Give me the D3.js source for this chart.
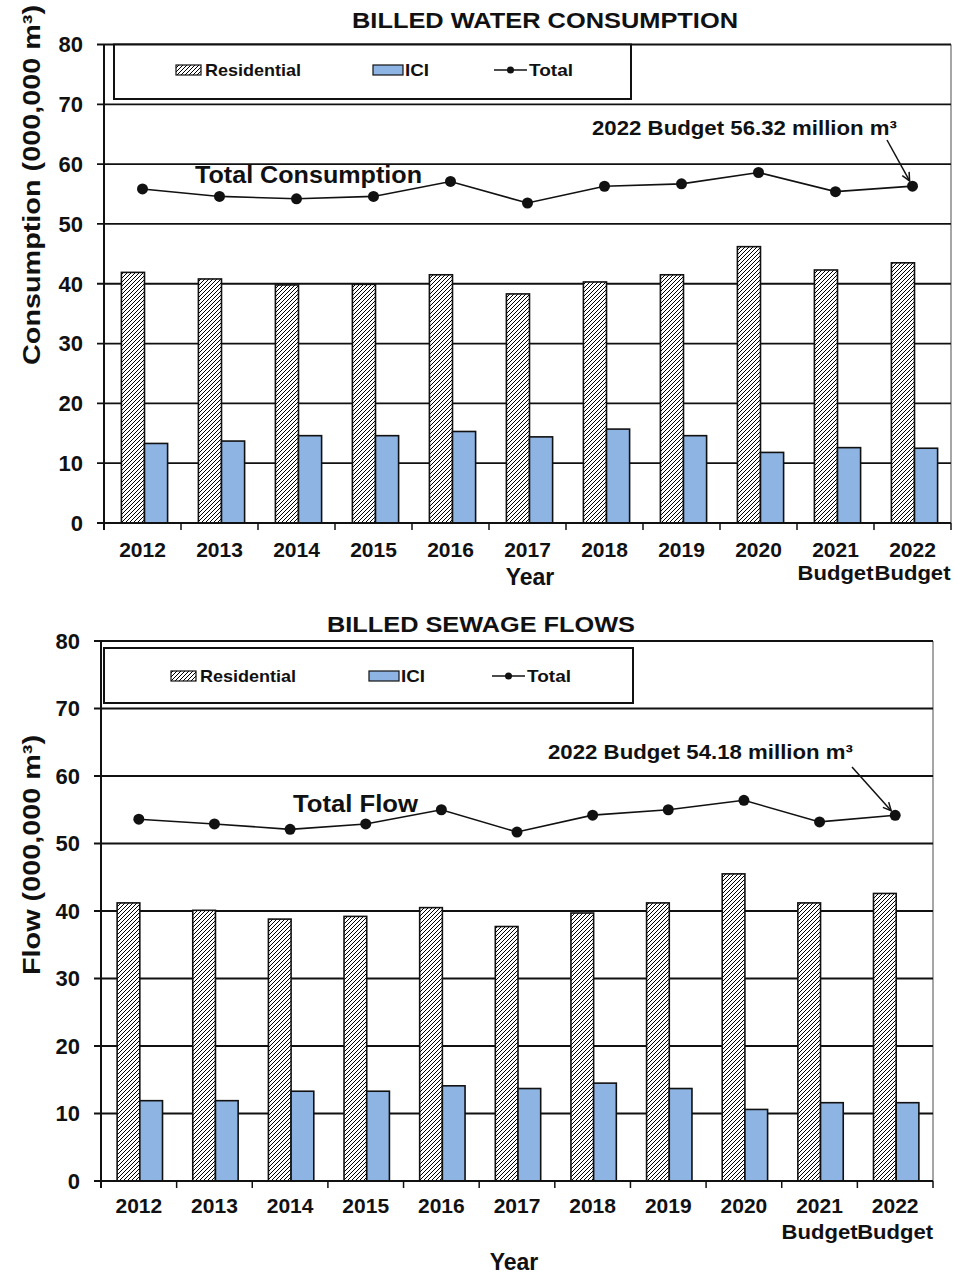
<!DOCTYPE html>
<html>
<head>
<meta charset="utf-8">
<script src="https://cdn.jsdelivr.net/npm/d3@7"></script>
<style>
  html, body { margin: 0; padding: 0; background: #ffffff; }
  svg { display: block; }
  text { font-family: "Liberation Sans", Arial, sans-serif; fill: #111; }
</style>
</head>
<body>
<script>
// ---------------- DATA ----------------
const years = ["2012", "2013", "2014", "2015", "2016", "2017", "2018", "2019", "2020", "2021", "2022"];
const yearSubLabels = ["", "", "", "", "", "", "", "", "", "Budget", "Budget"];
const yTicks = [0, 10, 20, 30, 40, 50, 60, 70, 80];
const legendLabels = ["Residential", "ICI", "Total"];

const waterResidential = [41.9, 40.8, 39.8, 39.9, 41.5, 38.3, 40.3, 41.5, 46.2, 42.3, 43.5];
const waterICI         = [13.3, 13.7, 14.6, 14.6, 15.3, 14.4, 15.7, 14.6, 11.8, 12.6, 12.5];
const waterTotal       = [55.85, 54.6, 54.2, 54.6, 57.1, 53.5, 56.3, 56.7, 58.6, 55.4, 56.32];

const sewageResidential = [41.2, 40.1, 38.8, 39.2, 40.5, 37.7, 39.7, 41.2, 45.5, 41.2, 42.6];
const sewageICI         = [11.9, 11.9, 13.3, 13.3, 14.1, 13.7, 14.5, 13.7, 10.6, 11.6, 11.6];
const sewageTotal       = [53.6, 52.9, 52.1, 52.9, 55.0, 51.7, 54.2, 55.0, 56.4, 53.2, 54.18];

const waterTitle = "BILLED WATER CONSUMPTION";
const sewageTitle = "BILLED SEWAGE FLOWS";
const waterYTitle = "Consumption (000,000 m³)";
const sewageYTitle = "Flow (000,000 m³)";
const waterLineLabel = "Total Consumption";
const sewageLineLabel = "Total Flow";
const waterAnnotation = "2022 Budget 56.32 million m³";
const sewageAnnotation = "2022 Budget 54.18 million m³";
const xTitle = "Year";

// ---------------- DRAW ----------------
const W = 954, H = 1274;
const svg = d3.select("body").append("svg").attr("width", W).attr("height", H);

const defs = svg.append("defs");
const pat = defs.append("pattern")
  .attr("id", "hatch").attr("patternUnits", "userSpaceOnUse")
  .attr("width", 4).attr("height", 4);
pat.append("rect").attr("width", 4).attr("height", 4).attr("fill", "#fff");
pat.append("path").attr("d", "M-1,1 l2,-2 M0,4 l4,-4 M3,5 l2,-2")
  .attr("stroke", "#000").attr("stroke-width", 1);

const ICI_COLOR = "#8EB4E3";
const legendTextLen = [96, 24, 44];

function drawChart(c) {
  const g = svg.append("g");
  const x = d3.scaleBand().domain(years).range([c.left, c.right]).padding(0);
  const y = d3.scaleLinear().domain([0, 80]).range([c.bottom, c.top]);
  const bw = x.bandwidth();
  const inner = d3.scaleBand().domain(["res", "ici"]).range([0, bw * 0.6]);

  // right border
  g.append("line").attr("x1", c.right).attr("x2", c.right)
    .attr("y1", c.top).attr("y2", c.bottom)
    .attr("stroke", "#888").attr("stroke-width", 1.5);

  // gridlines + y ticks
  g.selectAll(".grid").data(yTicks).join("line")
    .attr("x1", c.left - 7).attr("x2", c.right)
    .attr("y1", d => y(d)).attr("y2", d => y(d))
    .attr("stroke", "#111").attr("stroke-width", 1.8);
  g.selectAll(".ytl").data(yTicks).join("text")
    .attr("x", c.left - 21).attr("y", d => y(d))
    .attr("dy", "0.36em").attr("text-anchor", "end")
    .attr("font-size", 22).attr("font-weight", "bold")
    .text(d => d);

  // legend box
  const lb = c.legendBox;
  g.append("rect").attr("x", lb[0]).attr("y", lb[1])
    .attr("width", lb[2] - lb[0]).attr("height", lb[3] - lb[1])
    .attr("fill", "#fff").attr("stroke", "#111").attr("stroke-width", 2);
  const ly = c.legendY;
  const li = c.legendItems;
  g.append("rect").attr("x", li[0]).attr("y", ly - 5).attr("width", 25).attr("height", 10)
    .attr("fill", "url(#hatch)").attr("stroke", "#111").attr("stroke-width", 1.2);
  g.append("text").attr("x", li[0] + 29).attr("y", ly).attr("dy", "0.36em")
    .attr("font-size", 17).attr("font-weight", "bold")
    .attr("textLength", legendTextLen[0]).attr("lengthAdjust", "spacingAndGlyphs")
    .text(legendLabels[0]);
  g.append("rect").attr("x", li[1]).attr("y", ly - 5).attr("width", 30).attr("height", 10)
    .attr("fill", ICI_COLOR).attr("stroke", "#111").attr("stroke-width", 1.2);
  g.append("text").attr("x", li[1] + 32).attr("y", ly).attr("dy", "0.36em")
    .attr("font-size", 17).attr("font-weight", "bold")
    .attr("textLength", legendTextLen[1]).attr("lengthAdjust", "spacingAndGlyphs")
    .text(legendLabels[1]);
  g.append("line").attr("x1", li[2]).attr("x2", li[2] + 33).attr("y1", ly).attr("y2", ly)
    .attr("stroke", "#111").attr("stroke-width", 1.5);
  g.append("circle").attr("cx", li[2] + 16.5).attr("cy", ly).attr("r", 3.5).attr("fill", "#111");
  g.append("text").attr("x", li[2] + 35).attr("y", ly).attr("dy", "0.36em")
    .attr("font-size", 17).attr("font-weight", "bold")
    .attr("textLength", legendTextLen[2]).attr("lengthAdjust", "spacingAndGlyphs")
    .text(legendLabels[2]);

  // bars
  const gx = d => x(d) + bw * 0.2 + c.shift;
  g.selectAll(".res").data(years).join("rect")
    .attr("x", d => gx(d) + inner("res"))
    .attr("y", (d, i) => y(c.res[i]))
    .attr("width", inner.bandwidth())
    .attr("height", (d, i) => y(0) - y(c.res[i]))
    .attr("fill", "url(#hatch)").attr("stroke", "#111").attr("stroke-width", 1.6);
  g.selectAll(".ici").data(years).join("rect")
    .attr("x", d => gx(d) + inner("ici"))
    .attr("y", (d, i) => y(c.ici[i]))
    .attr("width", inner.bandwidth())
    .attr("height", (d, i) => y(0) - y(c.ici[i]))
    .attr("fill", ICI_COLOR).attr("stroke", "#111").attr("stroke-width", 1.6);

  // y axis
  g.append("line").attr("x1", c.left).attr("x2", c.left)
    .attr("y1", c.top).attr("y2", c.bottom + 7)
    .attr("stroke", "#111").attr("stroke-width", 2);
  // x axis
  g.append("line").attr("x1", c.left).attr("x2", c.right)
    .attr("y1", c.bottom).attr("y2", c.bottom)
    .attr("stroke", "#111").attr("stroke-width", 2);
  const boundaries = years.map(d => x(d)).concat([c.right]);
  g.selectAll(".xt").data(boundaries).join("line")
    .attr("x1", d => d).attr("x2", d => d)
    .attr("y1", c.bottom).attr("y2", c.bottom + 7)
    .attr("stroke", "#111").attr("stroke-width", 1.5);

  // x labels
  g.selectAll(".xl").data(years).join("text")
    .attr("x", d => x(d) + bw / 2).attr("y", c.yearY)
    .attr("text-anchor", "middle").attr("font-size", 21).attr("font-weight", "bold")
    .text(d => d);
  g.selectAll(".xs").data(years.filter((d, i) => yearSubLabels[i])).join("text")
    .attr("x", d => x(d) + bw / 2).attr("y", c.subY)
    .attr("text-anchor", "middle").attr("font-size", 21).attr("font-weight", "bold")
    .attr("textLength", 76).attr("lengthAdjust", "spacingAndGlyphs")
    .text(d => yearSubLabels[years.indexOf(d)]);
  g.append("text").attr("x", c.xTitleX).attr("y", c.xTitleY)
    .attr("text-anchor", "middle").attr("font-size", 23).attr("font-weight", "bold")
    .text(xTitle);

  // total line
  const line = d3.line().x(d => x(d) + bw / 2).y((d, i) => y(c.total[i]));
  g.append("path").datum(years).attr("d", line)
    .attr("fill", "none").attr("stroke", "#111").attr("stroke-width", 1.6);
  g.selectAll(".pt").data(years).join("circle")
    .attr("cx", d => x(d) + bw / 2).attr("cy", (d, i) => y(c.total[i]))
    .attr("r", 5.5).attr("fill", "#111");

  // line label
  g.append("text").attr("x", c.lineLabelX).attr("y", c.lineLabelY)
    .attr("font-size", 24).attr("font-weight", "bold")
    .attr("textLength", c.lineLabelLen).attr("lengthAdjust", "spacingAndGlyphs")
    .text(c.lineLabel);

  // title
  g.append("text").attr("x", c.titleX).attr("y", c.titleY)
    .attr("text-anchor", "middle").attr("font-size", 22).attr("font-weight", "bold")
    .attr("textLength", c.titleLen).attr("lengthAdjust", "spacingAndGlyphs")
    .text(c.title);

  // y title
  g.append("text")
    .attr("transform", `translate(${c.yTitleX},${c.yTitleY}) rotate(-90)`)
    .attr("text-anchor", "middle").attr("font-size", 24).attr("font-weight", "bold")
    .attr("textLength", c.yTitleLen).attr("lengthAdjust", "spacingAndGlyphs")
    .text(c.yTitle);

  // annotation
  g.append("text").attr("x", c.annX).attr("y", c.annY)
    .attr("font-size", 21).attr("font-weight", "bold")
    .attr("textLength", 305).attr("lengthAdjust", "spacingAndGlyphs")
    .text(c.annotation);
  const last = years[years.length - 1];
  const px = x(last) + bw / 2, py = y(c.total[c.total.length - 1]);
  const sx = c.arrowStart[0], sy = c.arrowStart[1];
  const ang = Math.atan2(py - sy, px - sx);
  const ex = px - Math.cos(ang) * 6, ey = py - Math.sin(ang) * 6;
  g.append("line").attr("x1", sx).attr("y1", sy).attr("x2", ex).attr("y2", ey)
    .attr("stroke", "#111").attr("stroke-width", 1.5);
  const ah = 9, aw = 0.45;
  const head = `M${ex - ah * Math.cos(ang - aw)},${ey - ah * Math.sin(ang - aw)} L${ex},${ey} L${ex - ah * Math.cos(ang + aw)},${ey - ah * Math.sin(ang + aw)}`;
  g.append("path").attr("d", head).attr("fill", "none")
    .attr("stroke", "#111").attr("stroke-width", 1.5);
}

drawChart({
  left: 104, right: 951, top: 44.5, bottom: 523, shift: 2,
  res: waterResidential, ici: waterICI, total: waterTotal,
  title: waterTitle, titleX: 545, titleY: 28, titleLen: 386,
  yTitle: waterYTitle, yTitleX: 40, yTitleY: 185, yTitleLen: 360,
  legendBox: [114, 44.5, 631, 99], legendY: 70, legendItems: [176, 373, 494],
  yearY: 557, subY: 580, xTitleX: 530, xTitleY: 585,
  lineLabel: waterLineLabel, lineLabelX: 195, lineLabelY: 183, lineLabelLen: 227,
  annotation: waterAnnotation, annX: 592, annY: 135, arrowStart: [887, 140]
});

drawChart({
  left: 101, right: 933, top: 641, bottom: 1181, shift: 1,
  res: sewageResidential, ici: sewageICI, total: sewageTotal,
  title: sewageTitle, titleX: 481, titleY: 632, titleLen: 308,
  yTitle: sewageYTitle, yTitleX: 40, yTitleY: 855, yTitleLen: 240,
  legendBox: [104, 648, 633, 703], legendY: 676, legendItems: [171, 369, 492],
  yearY: 1213, subY: 1239, xTitleX: 514, xTitleY: 1270,
  lineLabel: sewageLineLabel, lineLabelX: 293, lineLabelY: 812, lineLabelLen: 125,
  annotation: sewageAnnotation, annX: 548, annY: 759, arrowStart: [852, 767]
});
</script>
</body>
</html>
